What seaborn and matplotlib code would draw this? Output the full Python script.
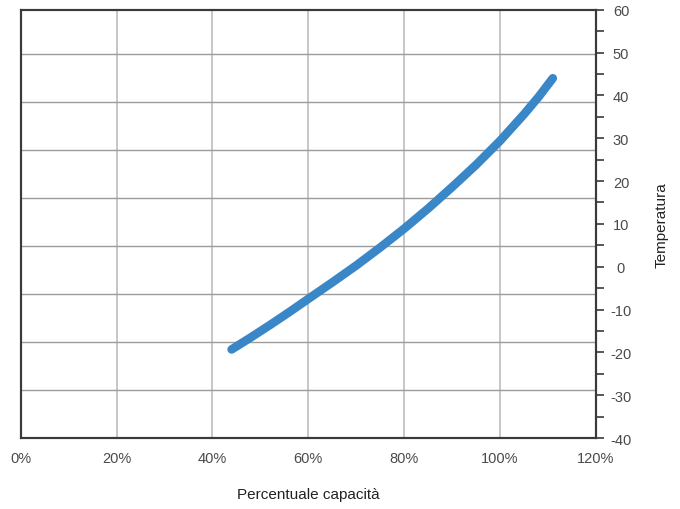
import matplotlib
matplotlib.use("Agg")
import matplotlib.pyplot as plt
from matplotlib.ticker import MultipleLocator
import seaborn as sns
import pandas as pd

# dati
capacita = [44, 48, 52, 56, 60, 65, 70, 75, 80, 85, 90, 95, 100, 105, 108, 111]
temperatura = [-19.3, -16.5, -13.6, -10.6, -7.5, -3.65, 0.3, 4.5, 8.9, 13.6, 18.6, 23.8, 29.4, 35.6, 39.6, 44.0]

x_ticks = [0, 20, 40, 60, 80, 100, 120]
x_labels = ["0%", "20%", "40%", "60%", "80%", "100%", "120%"]
y_ticks = [-40, -30, -20, -10, 0, 10, 20, 30, 40, 50, 60]
y_labels = ["-40", "-30", "-20", "-10", "0", "10", "20", "30", "40", "50", "60"]

df = pd.DataFrame({"capacita": capacita, "temperatura": temperatura})

sns.set_style("white")
plt.rcParams["font.family"] = ["Liberation Sans", "DejaVu Sans"]

fig = plt.figure(figsize=(6.8, 5.1), dpi=100)
ax = fig.add_axes([0.0304, 0.139, 0.846, 0.840])

# griglia (asse sinistro nascosto)
ax.set_xlim(0, 120)
ax.set_xticks(x_ticks)
ax.set_xticklabels(x_labels)
ax.set_ylim(0, 8.92)
ax.set_yticks([1, 2, 3, 4, 5, 6, 7, 8])
ax.set_yticklabels([])
ax.tick_params(axis="y", length=0)
ax.tick_params(axis="x", length=0, pad=9, labelsize=10.5, labelcolor="#4a4a4a")
ax.xaxis.grid(True, color="#c2c2c2", linewidth=1.3)
ax.yaxis.grid(True, color="#9c9c9c", linewidth=1.0)
for s in ax.spines.values():
    s.set_color("#3a3a3a")
    s.set_linewidth(1.5)
ax.set_xlabel("Percentuale capacità", fontsize=11, color="#222222", labelpad=16)

# asse destro con la curva
ax2 = ax.twinx()
sns.lineplot(data=df, x="capacita", y="temperatura", ax=ax2, color="#3a87c8",
             linewidth=6.2, solid_capstyle="round", solid_joinstyle="round")
ax2.set_xlim(0, 120)
ax2.set_ylim(-40, 60)
ax2.set_yticks(y_ticks)
ax2.set_yticklabels(y_labels)
ax2.yaxis.set_minor_locator(MultipleLocator(5))
ax2.tick_params(axis="y", which="both", direction="out", length=6, width=1.2,
                color="#3a3a3a", right=True)
ax2.tick_params(axis="y", which="major", pad=12, labelsize=10.5, labelcolor="#4a4a4a")
for lab in ax2.get_yticklabels():
    lab.set_horizontalalignment("center")
for s in ax2.spines.values():
    s.set_color("#3a3a3a")
    s.set_linewidth(1.5)
ax2.set_xlabel("")
ax2.set_ylabel("Temperatura", fontsize=11, color="#222222")
ax2.yaxis.set_label_coords(1.102, 0.5)

fig.savefig("out.png", dpi=100)
